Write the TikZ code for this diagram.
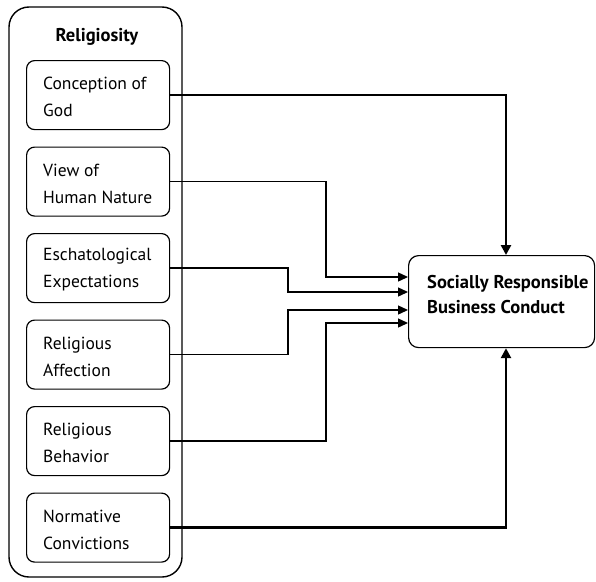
\documentclass[tikz,border=0pt]{standalone}
\usepackage{fontspec}
\setmainfont{PT Sans}
\usetikzlibrary{arrows.meta}
\begin{document}
\begin{tikzpicture}[x=1pt,y=-1pt,
  outerbox/.style={draw,line width=1.4pt,rounded corners=20pt},
  factor/.style={draw,line width=1.2pt,rounded corners=8pt,minimum width=143pt,minimum height=69pt,anchor=north west},
  factortext/.style={anchor=west,align=left,font=\fontsize{17.5}{27}\selectfont,inner sep=0pt},
  outcome/.style={draw,line width=1.2pt,rounded corners=10pt,minimum width=186pt,minimum height=92pt,anchor=north west},
  weaklink/.style={line width=1.4pt,-{Triangle[length=10pt,width=9pt]}},
  stronglink/.style={line width=2.6pt,-{Triangle[length=10pt,width=10pt]}}]
\useasboundingbox (0,0) rectangle (596,581);
% outer grouping box
\draw[outerbox] (9,7) rectangle (182,577);
\node[font=\bfseries\fontsize{18.5}{20}\selectfont] (title) at (97,37) {Religiosity};
% dimension boxes
\node[factor] (f1) at (26,60) {};
\node[factor] (f2) at (26,146.5) {};
\node[factor] (f3) at (26,233) {};
\node[factor] (f4) at (26,319.5) {};
\node[factor] (f5) at (26,406) {};
\node[factor] (f6) at (26,492.5) {};
\node[factortext] (t1) at (43,97) {Conception of\\God};
\node[factortext] (t2) at (43,183.5) {View of\\Human Nature};
\node[factortext] (t3) at (43,270) {Eschatological\\Expectations};
\node[factortext] (t4) at (43,356.5) {Religious\\Affection};
\node[factortext] (t5) at (43,443) {Religious\\Behavior};
\node[factortext] (t6) at (43,529.5) {Normative\\Convictions};
% outcome box
\node[outcome] (srbc) at (408,255) {};
\node[anchor=west,align=left,font=\bfseries\fontsize{18.5}{25}\selectfont,inner sep=0pt] (st) at (427,295) {Socially Responsible\\Business Conduct};
% connectors
\coordinate (a2) at (408,277);
\coordinate (a3) at (408,292);
\coordinate (a4) at (408,310);
\coordinate (a5) at (408,323);
\draw[stronglink] (f1.east) -| (srbc.north -| 506,0);
\draw[stronglink] (f6.east) -| (srbc.south -| 506,0);
\draw[weaklink] (f2.east) -| (326,277) -- (a2);
\draw[weaklink] (f3.east) -| (288,292) -- (a3);
\draw[weaklink] (f4.east) -| (288,310) -- (a4);
\draw[weaklink] (f5.east) -| (326,323) -- (a5);
\end{tikzpicture}
\end{document}
